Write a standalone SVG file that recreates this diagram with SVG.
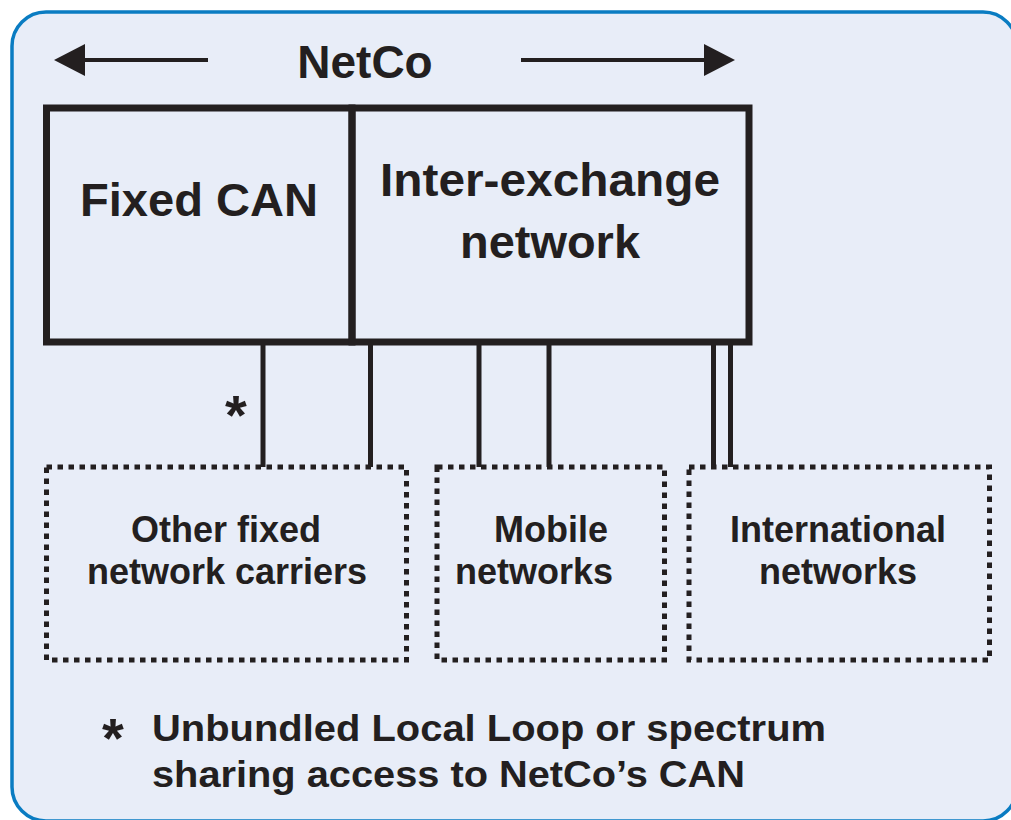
<svg xmlns="http://www.w3.org/2000/svg" width="1011" height="820" viewBox="0 0 1011 820">
  <style>
    text { font-family: "Liberation Sans", Arial, sans-serif; font-weight: bold; fill: #231F20; }
    .big { font-size: 46px; }
    .mid { font-size: 36px; }
    .note { font-size: 37px; }
    .star { font-size: 56px; }
    .solid { fill: none; stroke: #231F20; stroke-width: 7; }
    .link { fill: none; stroke: #231F20; stroke-width: 5; }
    .dotted { fill: none; stroke: #231F20; stroke-width: 5; stroke-dasharray: 5.5 5.5; }
    .arrow { fill: none; stroke: #231F20; stroke-width: 4; }
  </style>
  <defs>
    <marker id="head" markerUnits="userSpaceOnUse" markerWidth="32" markerHeight="34" refX="0" refY="17" orient="auto">
      <polygon points="0,1 31,17 0,33" fill="#231F20"/>
    </marker>
  </defs>

  <!-- panel -->
  <rect x="12" y="12" width="1005" height="809" rx="34" ry="34" fill="#E8EDF8" stroke="#0A7CC2" stroke-width="3.5"/>

  <!-- NetCo span arrows -->
  <g id="netco">
    <line class="arrow" x1="208" y1="60" x2="85" y2="60" marker-end="url(#head)"/>
    <line class="arrow" x1="521" y1="60" x2="704" y2="60" marker-end="url(#head)"/>
    <text class="big" x="365" y="78" text-anchor="middle">NetCo</text>
  </g>

  <!-- NetCo box: fixed CAN and inter-exchange network -->
  <g id="fixed-can">
    <rect class="solid" x="46.5" y="108" width="305.5" height="234"/>
    <text class="big" x="199" y="216" text-anchor="middle" textLength="238" lengthAdjust="spacingAndGlyphs">Fixed CAN</text>
  </g>
  <g id="inter-exchange">
    <rect class="solid" x="352" y="108" width="397" height="234"/>
    <text class="big" x="550" y="196" text-anchor="middle" textLength="340" lengthAdjust="spacingAndGlyphs">Inter-exchange</text>
    <text class="big" x="550" y="258" text-anchor="middle" textLength="180" lengthAdjust="spacingAndGlyphs">network</text>
  </g>

  <!-- links to other networks -->
  <g id="connectors">
    <line class="link" x1="263" y1="345" x2="263" y2="467"/>
    <line class="link" x1="370.5" y1="345" x2="370.5" y2="467"/>
    <line class="link" x1="479" y1="345" x2="479" y2="467"/>
    <line class="link" x1="549" y1="345" x2="549" y2="467"/>
    <line class="link" x1="713.5" y1="345" x2="713.5" y2="467"/>
    <line class="link" x1="730.5" y1="345" x2="730.5" y2="467"/>
    <text class="star" x="236" y="434" text-anchor="middle">*</text>
  </g>

  <g id="other-fixed">
    <rect class="dotted" x="46.5" y="467" width="360" height="193"/>
    <text class="mid" x="226" y="542" text-anchor="middle">Other fixed</text>
    <text class="mid" x="227" y="584" text-anchor="middle">network carriers</text>
  </g>
  <g id="mobile">
    <rect class="dotted" x="437" y="467" width="227.5" height="193"/>
    <text class="mid" x="551" y="542" text-anchor="middle">Mobile</text>
    <text class="mid" x="534" y="584" text-anchor="middle">networks</text>
  </g>
  <g id="international">
    <rect class="dotted" x="689" y="467" width="300.5" height="193"/>
    <text class="mid" x="838" y="542" text-anchor="middle">International</text>
    <text class="mid" x="838" y="584" text-anchor="middle">networks</text>
  </g>

  <!-- footnote -->
  <g id="footnote">
    <text class="star" x="113" y="757" text-anchor="middle">*</text>
    <text class="note" x="152" y="741" textLength="674" lengthAdjust="spacingAndGlyphs">Unbundled Local Loop or spectrum</text>
    <text class="note" x="152" y="787" textLength="593" lengthAdjust="spacingAndGlyphs">sharing access to NetCo’s CAN</text>
  </g>
</svg>
